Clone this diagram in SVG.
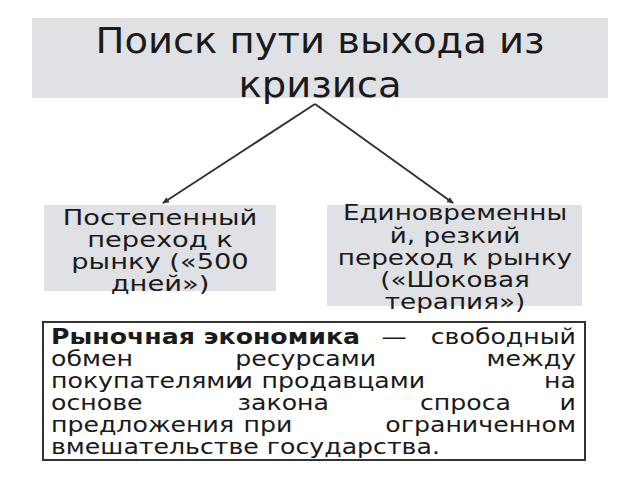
<svg xmlns="http://www.w3.org/2000/svg" width="640" height="480" viewBox="0 0 640 480">
<style>
text{font-family:"DejaVu Sans",sans-serif;fill:#1a1a1a}
.b{fill:#e0e1e5}
.t{font-size:21px;text-anchor:middle}
.p{font-size:21px}
.e{text-anchor:end}
.c{stroke:#333;stroke-width:2;fill:none}
</style>
<defs><marker id="a" markerWidth="8" markerHeight="8" refX="6" refY="4" orient="auto" markerUnits="userSpaceOnUse"><path d="M0,1 L7,4 L0,7 z" fill="#333"/></marker></defs>
<rect width="640" height="480" fill="#fff"/>
<g id="title"><rect class="b" x="32" y="18" width="576" height="80"/>
<g transform="translate(320,0) scale(1.1,1)">
<text x="0" y="53" style="font-size:35px;text-anchor:middle">Поиск пути выхода из</text>
<text x="0" y="97" style="font-size:35px;text-anchor:middle">кризиса</text></g></g>
<g id="connectors"><path class="c" d="M315,104 L163,203" marker-end="url(#a)"/><path class="c" d="M315,104 L453,203" marker-end="url(#a)"/></g>
<g id="left"><rect class="b" x="44" y="205" width="232" height="86"/>
<g transform="translate(160,0) scale(1.3,1)">
<text class="t" x="0" y="225">Постепенный</text><text class="t" x="0" y="247">переход к</text><text class="t" x="0" y="269">рынку («500</text><text class="t" x="0" y="291">дней»)</text></g></g>
<g id="right"><rect class="b" x="327" y="205" width="255" height="101"/>
<g transform="translate(455,0) scale(1.25,1)">
<text class="t" x="0" y="220">Единовременны</text><text class="t" x="0" y="243">й, резкий</text><text class="t" x="0" y="265">переход к рынку</text><text class="t" x="0" y="287">(«Шоковая</text><text class="t" x="0" y="309">терапия»)</text></g></g>
<g id="def"><rect x="43" y="322" width="542" height="138" fill="#fff" stroke="#333" stroke-width="2"/>
<g transform="scale(1.2,1)">
<text class="p" x="42.5" y="344" font-weight="bold">Рыночная экономика</text><text class="p" x="318" y="344">—</text><text class="p e" x="480" y="344">свободный</text>
<text class="p" x="42.5" y="366">обмен</text><text class="p" x="196" y="366">ресурсами</text><text class="p e" x="480" y="366">между</text>
<text class="p" x="42.5" y="388">покупателями</text><text class="p" x="197" y="388">и</text><text class="p" x="218" y="388">продавцами</text><text class="p e" x="480" y="388">на</text>
<text class="p" x="42.5" y="410">основе</text><text class="p" x="198" y="410">закона</text><text class="p" x="350" y="410">спроса</text><text class="p e" x="480" y="410">и</text>
<text class="p" x="42.5" y="432">предложения</text><text class="p" x="203" y="432">при</text><text class="p e" x="480" y="432">ограниченном</text>
<text class="p" x="42.5" y="454">вмешательстве государства.</text></g></g>
</svg>
